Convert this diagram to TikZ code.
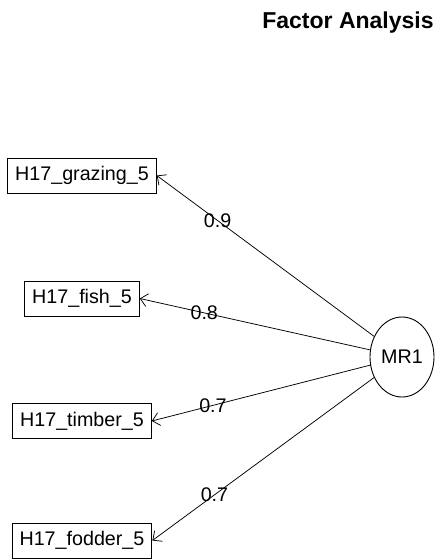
\documentclass[tikz,border=0pt]{standalone}
\usepackage{fontspec}
\setmainfont{Liberation Sans}
\usetikzlibrary{shapes.geometric,arrows.meta}
\begin{document}
\begin{tikzpicture}[x=1pt,y=-1pt,
  varbox/.style={draw,line width=0.9pt,inner xsep=7.5pt,inner ysep=0pt,
    minimum height=35pt,font=\fontsize{19.7}{23}\selectfont},
  factor/.style={draw,ellipse,line width=0.9pt,minimum width=64pt,minimum height=80pt,
    inner sep=0pt,font=\fontsize{19.7}{23}\selectfont},
  loading/.style={->,line width=0.75pt,>={Straight Barb[length=7pt,width=13pt]}},
  lbl/.style={inner sep=0pt,font=\fontsize{19.7}{23}\selectfont}]
\useasboundingbox (0,0) rectangle (441,560);
% title
\node[anchor=base,font=\fontsize{23}{27}\bfseries\selectfont] (title) at (348,28) {Factor Analysis};
% observed variables
\node[varbox] (graz) at (82,175.5) {H17\_grazing\_5};
\node[varbox] (fish) at (82,298.5) {H17\_fish\_5};
\node[varbox] (timb) at (82,421) {H17\_timber\_5};
\node[varbox] (fodd) at (82,540.5) {H17\_fodder\_5};
% latent factor
\node[factor] (mr) at (402,357) {MR1};
% loadings
\draw[loading] (mr) -- (graz.east) node[lbl,pos=0.72] (l1) {0.9};
\draw[loading] (mr) -- (fish.east) node[lbl,pos=0.72] (l2) {0.8};
\draw[loading] (mr) -- (timb.east) node[lbl,pos=0.72] (l3) {0.7};
\draw[loading] (mr) -- (fodd.east) node[lbl,pos=0.72] (l4) {0.7};
\end{tikzpicture}
\end{document}
